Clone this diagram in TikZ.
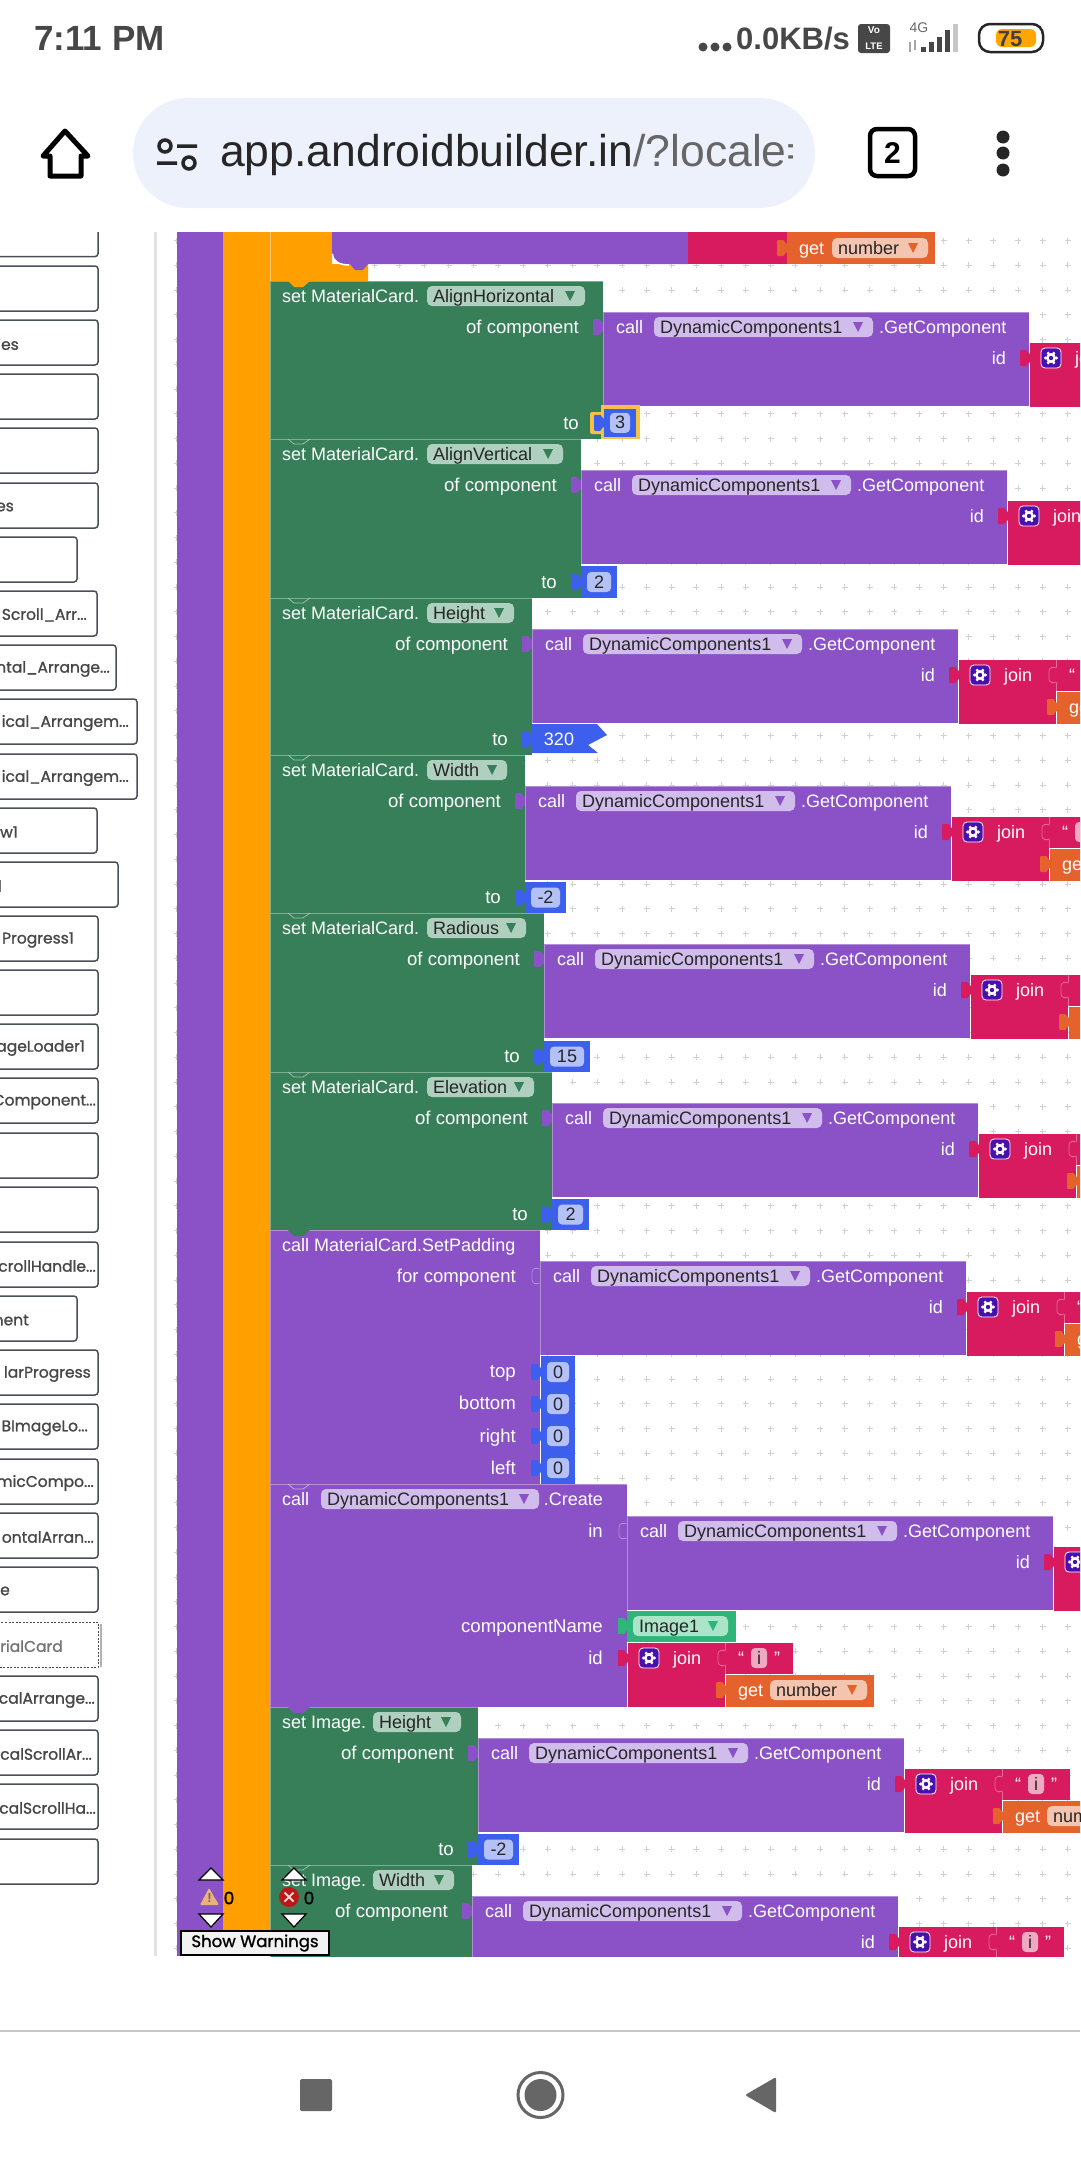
\documentclass[tikz,border=0pt]{standalone}
\usepackage{fontspec}
\setmainfont{Liberation Sans}
\newfontfamily\popfont[FakeBold=1.2]{Poppins}

\definecolor{lanepurple}{HTML}{8A52C6}
\definecolor{laneorange}{HTML}{FF9F00}
\definecolor{setgreen}{HTML}{367F58}
\definecolor{joinred}{HTML}{D81B5E}
\definecolor{getorange}{HTML}{E5622D}
\definecolor{numblue}{HTML}{3C5FEE}
\definecolor{imggreen}{HTML}{2FB57A}
\definecolor{greenfield}{HTML}{AFD0BE}
\definecolor{purplefield}{HTML}{D0BDEB}
\definecolor{getfield}{HTML}{F5C4AE}
\definecolor{bluefield}{HTML}{B4C1F6}
\definecolor{pinkfield}{HTML}{EFA9C2}
\definecolor{imgfield}{HTML}{ABE4C9}
\definecolor{gearblue}{HTML}{4A10AE}
\definecolor{pillblue}{HTML}{EDF1FB}
\definecolor{sideline}{HTML}{4A5058}
\definecolor{navgray}{HTML}{666666}
\definecolor{pickyellow}{HTML}{F7C243}

\newcommand{\cutoff}{...}

\tikzset{
  blocktext/.style={inner sep=0pt, text=white, font=\fontsize{18}{20}\selectfont, text height=12pt, text depth=0pt},
  labeltext/.style={blocktext, font=\fontsize{18.6}{20}\selectfont},
  fieldtext/.style={blocktext, text=black!85},
  numfield/.style={fieldtext, fill=bluefield, rounded corners=4pt, minimum height=20pt, text width=#1, align=center},
  strfield/.style={fieldtext, fill=pinkfield, rounded corners=4pt, minimum height=20pt, minimum width=16pt, align=center},
  sidebox/.style={draw=sideline, line width=1.5pt, fill=white, rounded corners=3pt},
  sidetext/.style={inner sep=0pt, text=black!72, font=\popfont\fontsize{15.5}{18}\selectfont},
  gridmark/.style={draw=black!18, line width=.9pt},
  arrowbtn/.style={fill=white, draw=black, line width=1.2pt, line join=miter},
}

% dropdown field with its little triangle
\newcommand{\ddfield}[7]{
  \fill[#5, rounded corners=5pt] (#2,#3-10) rectangle (#2+#4,#3+10);
  \node[fieldtext, anchor=west] (#1) at (#2+6,#3) {#7};
  \fill[#6] (#2+#4-20,#3-5) -- (#2+#4-10,#3-5) -- (#2+#4-15,#3+5) -- cycle;
}
% puzzle tabs: filled, or only outlined when on its own colour
\newcommand{\tabfill}[3]{
  \fill[#3, rounded corners=1pt] (#1+1,#2-4) -- (#1-2,#2-5) -- (#1-3,#2-8) -- (#1-10,#2-8) -- (#1-10,#2+8) -- (#1-3,#2+8) -- (#1-2,#2+5) -- (#1+1,#2+4) -- cycle;
}
\newcommand{\tabline}[3]{
  \draw[#3, line width=.7pt, rounded corners=3pt] (#1,#2-7) -- (#1-3,#2-8) -- (#1-8,#2-7) -- (#1-8,#2+7) -- (#1-3,#2+8) -- (#1,#2+7);
}
% notch under the block above
\newcommand{\notch}[2]{
  \fill[#2] (288,#1) -- (294,#1+6) -- (303,#1+6) -- (310,#1) -- cycle;
}
\newcommand{\gearicon}[2]{
  \fill[gearblue, draw=white, line width=.8pt, rounded corners=4pt] (#1-10,#2-10) rectangle (#1+10,#2+10);
  \foreach \a in {0,60,...,300} \fill[white] (#1,#2) ++(\a:5.5) circle (1.7);
  \fill[white] (#1,#2) circle (5);
  \fill[gearblue] (#1,#2) circle (2.2);
}
% join with a text and a get block in it
\newcommand{\stackjoin}[3]{
  \tabfill{#2}{#3+15}{joinred}
  \fill[joinred] (#2,#3) rectangle (#2+97,#3+64);
  \gearicon{#2+21}{#3+15}
  \node[blocktext, anchor=west] (#1-join) at (#2+45,#3+15) {join};
  \fill[joinred] (#2+97,#3) rectangle (#2+165,#3+31);
  \draw[white!35!joinred, line width=.6pt] (#2+97.5,#3) -- (#2+97.5,#3+7) (#2+97.5,#3+23) -- (#2+97.5,#3+31);
  \tabline{#2+98}{#3+15}{white!35!joinred}
  \node[blocktext] (#1-open) at (#2+113,#3+15) {“};
  \node[strfield] (#1-str) at (#2+131,#3+15) {i};
  \node[blocktext] (#1-close) at (#2+149,#3+15) {”};
  \fill[getorange] (#2+98,#3+32) rectangle (#2+246,#3+64);
  \tabfill{#2+98}{#3+47}{getorange}
  \node[blocktext, anchor=west] (#1-get) at (#2+110,#3+47) {get};
  \ddfield{#1-num}{#2+142}{#3+47}{97}{getfield}{getorange}{number}
}
% the purple GetComponent block with its id socket
\newcommand{\callblock}[4]{
  \fill[lanepurple] (#2,#3) rectangle (#4,#3+94);
  \draw[white!35!lanepurple, line width=.7pt] (#2,#3+94) -- (#2,#3) -- (#4,#3);
  \node[blocktext, anchor=west] (#1-call) at (#2+13,#3+15) {call};
  \ddfield{#1-comp}{#2+51}{#3+15}{219}{purplefield}{lanepurple}{DynamicComponents1}
  \node[blocktext, anchor=west] (#1-get) at (#2+276,#3+15) {.GetComponent};
  \node[blocktext, anchor=east] (#1-id) at (#4-23,#3+46) {id};
  \stackjoin{#1-s}{#4+1}{#3+31}
}
% blue number block
\newcommand{\numblock}[6]{
  \fill[numblue] (#2,#3) rectangle (#2+#4,#3+#5);
  \tabfill{#2}{#3+#5/2}{numblue}
  \node[numfield=#4-12, anchor=center] (#1) at (#2+#4/2,#3+#5/2) {#6};
}

\begin{document}
\begin{tikzpicture}[x=1pt,y=-1pt]
  \useasboundingbox (0,0) rectangle (1080,2160);

  % browser chrome
  \node[inner sep=0pt, anchor=west, text=black!72, font=\bfseries\fontsize{35}{38}\selectfont] (clock) at (34,38) {7:11 PM};
  \foreach \dotx in {703,715,727} \fill[black!72] (\dotx,47) circle (4.5);
  \node[inner sep=0pt, anchor=west, text=black!72, font=\bfseries\fontsize{31}{36}\selectfont] (speed) at (736,39) {0.0KB/s};
  \fill[black!72, rounded corners=3pt] (858,24) rectangle (890,53);
  \node[inner sep=0pt, text=white, font=\bfseries\fontsize{10}{10}\selectfont] (vo) at (874,30.5) {Vo};
  \node[inner sep=0pt, text=white, font=\bfseries\fontsize{9.5}{10}\selectfont] (lte) at (874,46) {LTE};
  \node[inner sep=0pt, text=black!60, font=\fontsize{14}{14}\selectfont] (fourg) at (919,28) {4G};
  \fill[black!35] (909,42) rectangle (911,52);
  \fill[black!35] (914,40) rectangle (916,50);
  \foreach \barx/\bartop in {921/47,929/42,937/37,945/30} \fill[black!72] (\barx,\bartop) rectangle (\barx+5,52);
  \fill[black!22] (953,24) rectangle (958,52);
  \draw[black!85, line width=2.5pt, rounded corners=11pt] (979,24) rectangle (1043,52);
  \fill[orange!70!yellow, rounded corners=6pt] (996,29) rectangle (1036,47);
  \node[inner sep=0pt, text=black!75, font=\bfseries\fontsize{22}{24}\selectfont] (battery) at (1010,39) {75};

  \draw[black, line width=5pt, line join=round] (65,131) -- (88,156) -- (81,156) -- (81,176) -- (50,176) -- (50,156) -- (43,156) -- cycle;
  \fill[pillblue, rounded corners=55pt] (133,98) rectangle (815,208);
  \draw[black!85, line width=3.5pt] (165,146) circle (6) (177,146) -- (197,146) (157,163) -- (177,163) (189,163) circle (6);
  \begin{scope}
    \clip (215,110) rectangle (792,200);
    \node[inner sep=0pt, anchor=west, font=\fontsize{44.5}{48}\selectfont] (url) at (220,155) {\textcolor{black!85}{app.androidbuilder.in}\textcolor{black!60}{/?locale=}};
  \end{scope}
  \draw[black, line width=4.5pt, rounded corners=7pt] (870,129) rectangle (915,176);
  \node[inner sep=0pt, font=\bfseries\fontsize{30}{32}\selectfont] (tabcount) at (892.5,153) {2};
  \foreach \dotx/\doty in {1003/137,1003/153,1003/170} \fill[black!85] (\dotx,\doty) circle (6.5);

  \begin{scope}
    \clip (0,232) rectangle (1080,1956);
    % grid of the workspace
    \draw[gridmark] \foreach \i in {0,...,36} { \foreach \j in {0,...,70} {
      (176.5+24.75*\i-3,240.5+24.75*\j) -- (176.5+24.75*\i+3,240.5+24.75*\j)
      (176.5+24.75*\i,240.5+24.75*\j-3) -- (176.5+24.75*\i,240.5+24.75*\j+3) } };

    % left list of blocks
    \foreach \boxid/\boxy/\boxr/\lx/\lab in {
      b0/211.6/98/0/{},b1/266/98/0/{},b2/320/98/19/ies,b3/374/98/0/{},b4/428/98/0/{},
      b5/483/98/14/es,b6/537/77/0/{},b7/591/97/87/Scroll\_Arr\cutoff,b8/645/116/110/ntal\_Arrange\cutoff,
      b9/699/137/129/ical\_Arrangem\cutoff,b10/754/137/129/ical\_Arrangem\cutoff,b11/808/97/18/w1,
      b12/862/118/2/l,b13/916/98/74/Progress1,b14/970/98/0/{},b15/1024/98/85/ageLoader1,
      b16/1078/98/96/Component\cutoff,b17/1133/98/0/{},b18/1187/98/0/{},b19/1242/98/96/crollHandle\cutoff,
      b20/1296/77/29/nent,b21/1350/98/91/larProgress,b22/1404/98/88/BImageLo\cutoff,
      b23/1459/98/94/micCompo\cutoff,b24/1513/98/94/ontalArran\cutoff,b25/1567/98/10/e,
      b27/1676/98/95/calArrange\cutoff,b28/1730/98/92/calScrollAr\cutoff,b29/1784/98/96/calScrollHa\cutoff,
      b30/1839/98/0/{}} {
      \draw[sidebox] (-8,\boxy) rectangle (\boxr,\boxy+45);
      \node[sidetext, anchor=east] (\boxid) at (\lx,\boxy+24) {\lab};
    }
    \draw[black!30, line width=2pt] (100.5,1624) -- (100.5,1667);
    \draw[black!70, line width=1pt, dash pattern=on 2pt off 1.5pt, fill=white] (-8,1622) rectangle (98,1667);
    \node[sidetext, anchor=east, text=black!55] (b26) at (63,1646) {rialCard};

    \fill[black!11] (154,232) rectangle (157,1956);

    % outer event and loop
    \fill[lanepurple] (177,232) rectangle (223,1956);
    \fill[laneorange] (223,232) rectangle (270,1956);
    \fill[laneorange] (270,232) -- (332,232) -- (332,264) -- (368,264) -- (368,281) -- (270,281) -- cycle;
    \draw[white!45!laneorange, line width=.6pt] (270,232) -- (270,281);

    \fill[lanepurple, rounded corners=12pt] (332,220) -- (332,264) -- (700,264) -- (700,220) -- cycle;
    \draw[white, line width=1.5pt] (332.5,254) .. controls (333,262) and (340,265) .. (349,265);
    \fill[lanepurple] (350,264) -- (355,270) -- (363,270) -- (368,264) -- cycle;
    \fill[joinred] (688,232) rectangle (787,264);
    \fill[getorange] (787,232) rectangle (935,264);
    \tabfill{787}{248}{getorange}
    \node[blocktext, anchor=west] (topget) at (799,248) {get};
    \ddfield{topnum}{832}{248}{96}{getfield}{getorange}{number}

    % the set blocks
    \foreach \id/\t/\b/\r/\obj/\fx/\fw/\prop in {
      cardh/281/439/603/MaterialCard./427/158/AlignHorizontal,
      cardv/439/598/581/MaterialCard./427/136/AlignVertical,
      cardht/598/755/532/MaterialCard./427/87/Height,
      cardw/755/913/525/MaterialCard./427/80/Width,
      cardr/913/1072/544/MaterialCard./427/99/Radious,
      carde/1072/1230/552/MaterialCard./427/107/Elevation,
      imgh/1707/1865/478/Image./373/88/Height,
      imgw/1865/2023/472/Image./373/81/Width} {
      \fill[setgreen] (270,\t) rectangle (\r,\b);
      \draw[white!35!setgreen, line width=.7pt] (270,\b) -- (270,\t) -- (\r,\t);
      \node[blocktext, anchor=west] (\id-set) at (282,\t+15) {set \obj};
      \ddfield{\id-prop}{\fx}{\t+15}{\fw}{greenfield}{setgreen}{\prop}
      \node[labeltext, anchor=east] (\id-of) at (\r-24,\t+46) {of component};
      \node[labeltext, anchor=east] (\id-to) at (\r-24,\b-16) {to};
      \tabfill{\r}{\t+46}{lanepurple}
      \callblock{\id-c}{\r}{\t+31}{\r+426}
    }
    \notch{281}{laneorange}
    \foreach \noty in {439,598,755,913,1072}
      \draw[white!55!setgreen, line width=.7pt] (288,\noty) -- (294,\noty+5) -- (303,\noty+5) -- (310,\noty);
    \draw[white!55!setgreen, line width=.7pt] (288,1865) -- (294,1870) -- (303,1870) -- (310,1865);

    % number blocks behind the to sockets
    \fill[pickyellow] (601,405) rectangle (640,439);
    \fill[pickyellow, rounded corners=2pt] (590,412) rectangle (604,434);
    \numblock{numa}{604}{409}{32}{27.5}{3}
    \numblock{numb}{581}{566}{36}{32}{2}
    \fill[numblue] (532,724) -- (597,724) -- (607,735) -- (588,745) -- (598,753) -- (532,753) -- cycle;
    \tabfill{532}{739}{numblue}
    \node[blocktext] (numc) at (559,739) {320};
    \numblock{numd}{525}{882}{41}{31}{-2}
    \numblock{nume}{544}{1041}{46}{31}{15}
    \numblock{numf}{552}{1199}{37}{31}{2}
    \numblock{numg}{478}{1834}{41}{31}{-2}

    % SetPadding
    \fill[lanepurple] (270,1230) rectangle (540,1484);
    \draw[white!35!lanepurple, line width=.7pt] (270,1484) -- (270,1230) -- (540,1230);
    \fill[setgreen] (288,1230) -- (294,1236) -- (303,1236) -- (310,1230) -- cycle;
    \node[blocktext, anchor=west] (padcall) at (282,1245) {call MaterialCard.SetPadding};
    \node[labeltext, anchor=east] (padfor) at (516,1276) {for component};
    \callblock{padc}{540}{1261}{966}
    \tabline{540}{1276}{white!35!lanepurple}
    \foreach \pad/\pady/\padtop in {top/1371/1356,bottom/1403/1388,right/1436/1420,left/1468/1452} {
      \node[labeltext, anchor=east] (pad\pad) at (516,\pady) {\pad};
      \numblock{num\pad}{541}{\padtop}{34}{32}{0}
    }

    % Create
    \fill[lanepurple] (270,1484) rectangle (627,1707);
    \draw[white!35!lanepurple, line width=.7pt] (270,1707) -- (270,1484) -- (627,1484);
    \draw[white!55!lanepurple, line width=.7pt] (288,1484) -- (294,1489) -- (303,1489) -- (310,1484);
    \node[blocktext, anchor=west] (crcall) at (282,1499) {call};
    \ddfield{crcomp}{321}{1499}{218}{purplefield}{lanepurple}{DynamicComponents1}
    \node[blocktext, anchor=east] (crname) at (603,1499) {.Create};
    \node[labeltext, anchor=east] (crin) at (603,1531) {in};
    \node[labeltext, anchor=east] (crcomponent) at (603,1626) {componentName};
    \node[labeltext, anchor=east] (crid) at (603,1658) {id};
    \callblock{crc}{627}{1516}{1053}
    \tabline{627}{1531}{white!35!lanepurple}
    \fill[imggreen] (627,1611) rectangle (736,1642);
    \tabfill{628}{1626}{imggreen}
    \ddfield{crimg}{633}{1626}{95}{imgfield}{imggreen}{Image1}
    \stackjoin{crs}{628}{1643}
    \fill[lanepurple] (288,1707) -- (294,1713) -- (303,1713) -- (310,1707) -- cycle;

    % warning counters on top of everything
    \foreach \arrowx in {211,294} {
      \filldraw[arrowbtn] (\arrowx,1868) -- (\arrowx+12,1880) -- (\arrowx-12,1880) -- cycle;
      \filldraw[arrowbtn] (\arrowx,1927) -- (\arrowx+12,1914) -- (\arrowx-12,1914) -- cycle;
    }
    \fill[orange!45!brown!60!white, rounded corners=1pt] (209,1888) -- (219,1905) -- (200,1905) -- cycle;
    \node[inner sep=0pt, text=black!60, font=\bfseries\fontsize{13}{13}\selectfont] (warnmark) at (209.5,1898) {!};
    \node[inner sep=0pt, font=\popfont\fontsize{17}{18}\selectfont] (warncount) at (229,1898) {0};
    \fill[red!70!black!90!white] (289,1897) circle (10);
    \draw[white!85!red, line width=1.8pt] (284.5,1892.5) -- (293.5,1901.5) (293.5,1892.5) -- (284.5,1901.5);
    \node[inner sep=0pt, font=\popfont\fontsize{17}{18}\selectfont] (errcount) at (309,1898) {0};
    \node[draw=black, fill=black!5, line width=1.3pt, inner sep=0pt, minimum width=148pt, minimum height=24pt, font=\popfont\fontsize{16.5}{18}\selectfont] (warnbtn) at (255,1943) {Show Warnings};
  \end{scope}

  % phone navigation
  \fill[black!22] (0,2029.5) rectangle (1080,2032);
  \fill[navgray, rounded corners=1.5pt] (300,2079) rectangle (332,2111);
  \draw[navgray, line width=3pt] (540.5,2095) circle (22.5);
  \fill[navgray] (540.5,2095) circle (16);
  \fill[navgray, rounded corners=2pt] (776,2077) -- (776,2113) -- (745,2095) -- cycle;
\end{tikzpicture}
\end{document}
